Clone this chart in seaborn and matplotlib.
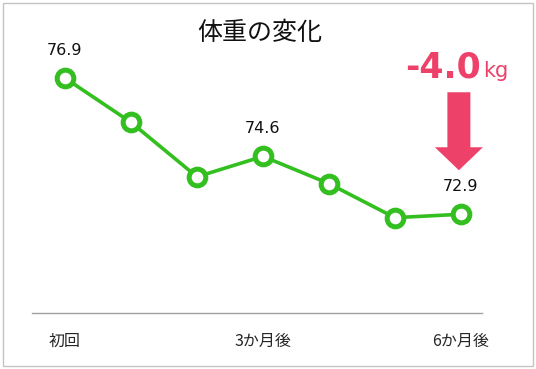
import matplotlib
matplotlib.use("Agg")
import matplotlib.pyplot as plt
import matplotlib.patches as mpatches
import seaborn as sns
import pandas as pd

# 体重の推移 (kg)
months = ["初回", "1か月後", "2か月後", "3か月後", "4か月後", "5か月後", "6か月後"]
weights = [76.9, 75.6, 74.0, 74.6, 73.8, 72.8, 72.9]
shown = [0, 3, 6]  # ラベルを出す位置

GREEN = "#33bf1f"
PINK = "#ee416a"

sns.set_theme(style="white")
plt.rcParams["font.family"] = ["Noto Sans CJK JP", "DejaVu Sans"]

df = pd.DataFrame({"idx": range(len(months)), "weight": weights})

W, H = 536, 369
fig = plt.figure(figsize=(W / 100, H / 100), dpi=100)
ax = fig.add_axes([32 / W, 56 / H, 450 / W, 272.4 / H])

sns.lineplot(
    data=df, x="idx", y="weight", ax=ax, color=GREEN, linewidth=2.6,
    marker="o", markersize=12, markerfacecolor="white",
    markeredgecolor=GREEN, markeredgewidth=3.6,
)

ax.set_xlim(-0.5, 6.32)
ax.set_ylim(70, 78)
ax.set_xticks(shown)
ax.set_xticklabels([months[i] for i in shown], fontsize=11.5)
ax.tick_params(axis="x", length=0, pad=14)
ax.set_yticks([])
ax.set_xlabel("")
ax.set_ylabel("")
for s in ["top", "left", "right"]:
    ax.spines[s].set_visible(False)
ax.spines["bottom"].set_color("#a0a0a0")
ax.spines["bottom"].set_linewidth(1)

# 数値ラベル
for i in shown:
    ax.annotate(f"{weights[i]:.1f}", xy=(i, weights[i]), xytext=(0, 20),
                textcoords="offset points", ha="center", va="center",
                fontsize=11.5, family="DejaVu Sans", color="#111111")

fig.text(260 / W, 1 - 33 / H, "体重の変化", ha="center", va="center",
         fontsize=18, color="#111111")

# 減少量と矢印
diff = weights[-1] - weights[0]
fig.text(481 / W, 1 - 77 / H, f"{diff:.1f}", ha="right", va="baseline",
         fontsize=25, fontweight="bold", color=PINK, family="DejaVu Sans")
fig.text(483 / W, 1 - 77 / H, "kg", ha="left", va="baseline",
         fontsize=15, color=PINK, family="DejaVu Sans")

fig.canvas.draw()
px, py = ax.transData.transform((len(weights) - 1, weights[-1]))
arrow = mpatches.FancyArrow(
    (px - 2) / 100, (py + 122) / 100, 0, -78 / 100,
    width=23 / 100, head_width=48 / 100, head_length=23 / 100,
    length_includes_head=True, color=PINK, lw=0,
    transform=fig.dpi_scale_trans,
)
fig.patches.append(arrow)

fig.patches.append(mpatches.Rectangle((3 / W, 3 / H), (W - 6) / W, (H - 6) / H,
                                      transform=fig.transFigure, fill=False,
                                      edgecolor="#c4c4c4", lw=1))

fig.savefig("out.png", dpi=100)
